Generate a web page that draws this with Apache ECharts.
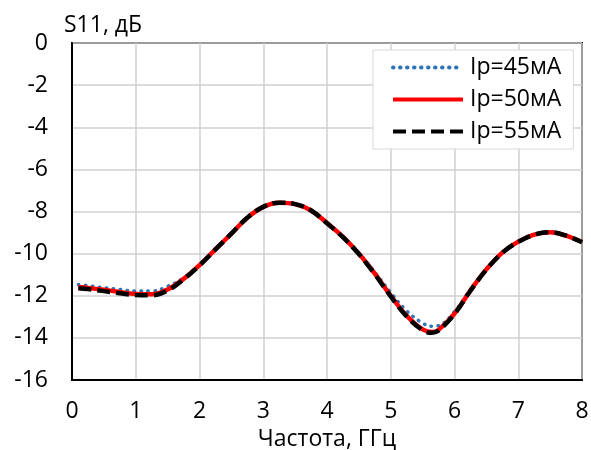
<!DOCTYPE html>
<html><head><meta charset="utf-8">
<script src="https://cdn.jsdelivr.net/npm/echarts@6/dist/echarts.min.js"></script>
<style>html,body{margin:0;padding:0;background:#fff}#c{width:591px;height:450px}</style>
</head><body><div id="c"></div>
<script>
const freq = [0.1,0.25,0.5,0.75,1.0,1.25,1.5,1.75,2.0,2.25,2.5,2.75,3.0,3.25,3.5,3.75,4.0,4.25,4.5,4.75,5.0,5.25,5.5,5.65,5.75,6.0,6.25,6.5,6.75,7.0,7.25,7.5,7.75,8.0];
const s45 = [-11.47,-11.52,-11.62,-11.7,-11.78,-11.78,-11.55,-11.15,-10.52,-9.78,-9.04,-8.3,-7.77,-7.58,-7.65,-7.95,-8.55,-9.2,-9.97,-10.88,-11.85,-12.72,-13.3,-13.45,-13.42,-12.75,-11.7,-10.75,-9.95,-9.43,-9.08,-8.96,-9.13,-9.45];
const s50 = [-11.58,-11.63,-11.72,-11.82,-11.92,-11.93,-11.7,-11.2,-10.55,-9.8,-9.05,-8.3,-7.78,-7.58,-7.65,-7.95,-8.55,-9.2,-10.0,-10.95,-12.0,-12.95,-13.6,-13.72,-13.62,-12.85,-11.75,-10.75,-9.95,-9.43,-9.1,-8.98,-9.15,-9.45];
const s55 = [-11.64,-11.68,-11.78,-11.88,-11.97,-11.98,-11.75,-11.22,-10.56,-9.8,-9.05,-8.3,-7.78,-7.58,-7.65,-7.95,-8.56,-9.22,-10.02,-10.98,-12.03,-12.98,-13.63,-13.76,-13.65,-12.87,-11.76,-10.76,-9.96,-9.44,-9.1,-8.98,-9.15,-9.46];
const names = ['Ip=45мА','Ip=50мА','Ip=55мА'];
const xTicks = {min:0, max:8, interval:1};
const yTicks = {min:-16, max:0, interval:2};
const xTitle = 'Частота, ГГц';
const yTitle = 'S11, дБ';

const font = 'Open Sans';
const fs = 23;
const chart = echarts.init(document.getElementById('c'), null, {renderer:'canvas'});
const pair = arr => freq.map((f,i)=>[f,arr[i]]);
chart.setOption({
  animation:false,
  backgroundColor:'#fff',
  grid:{left:72, right:9, top:43, bottom:70, show:true, borderColor:'#000', borderWidth:2,
    backgroundColor:'transparent', containLabel:false, outerBoundsMode:'none'},
  xAxis:{type:'value', min:xTicks.min, max:xTicks.max, interval:xTicks.interval,
    name:xTitle, nameLocation:'middle', nameGap:44,
    nameTextStyle:{fontFamily:font, fontSize:fs, color:'#000'},
    axisLine:{show:true, onZero:false, lineStyle:{color:'#000', width:2}},
    axisTick:{show:false},
    axisLabel:{fontFamily:font, fontSize:fs, color:'#000', margin:20},
    splitLine:{show:true, lineStyle:{color:'#d0d0d0', width:1.5}}},
  yAxis:{type:'value', min:yTicks.min, max:yTicks.max, interval:yTicks.interval,
    name:yTitle, nameLocation:'end', nameGap:6,
    nameTextStyle:{fontFamily:font, fontSize:fs, color:'#000', align:'left', padding:[0,0,0,-8]},
    axisLine:{show:true, lineStyle:{color:'#000', width:2}},
    axisTick:{show:false},
    axisLabel:{fontFamily:font, fontSize:fs, color:'#000', margin:24},
    splitLine:{show:true, lineStyle:{color:'#d0d0d0', width:1.5}}},
  legend:{show:true, orient:'vertical', left:373, top:50, width:207,
    backgroundColor:'#fff', borderColor:'#d9d9d9', borderWidth:1,
    padding:[6,12,6,18], itemGap:9, itemWidth:70, itemHeight:20,
    itemStyle:{opacity:0},
    lineStyle:{width:4},
    textStyle:{fontFamily:font, fontSize:fs, color:'#000', padding:[0,0,0,2]},
    data:names},
  series:[
    {name:names[0], type:'line', smooth:0.4, symbol:'none', data:pair(s45), z:2,
      lineStyle:{color:'#2e75b6', width:3.5, type:[0.5,6.5], cap:'round'}, itemStyle:{color:'#2e75b6'}},
    {name:names[1], type:'line', smooth:0.4, symbol:'none', data:pair(s50), z:3,
      lineStyle:{color:'#ff0000', width:4.5}, itemStyle:{color:'#ff0000'}},
    {name:names[2], type:'line', smooth:0.4, symbol:'none', data:pair(s55), z:4,
      lineStyle:{color:'#000000', width:4.5, type:[13,6]}, itemStyle:{color:'#000000'}}
  ]
});
</script></body></html>
